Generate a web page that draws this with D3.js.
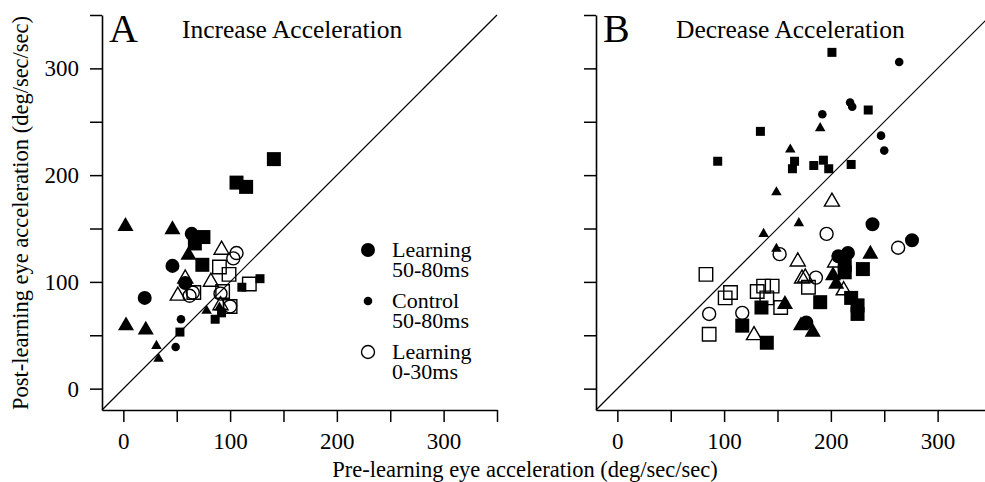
<!DOCTYPE html>
<html>
<head>
<meta charset="utf-8">
<script src="https://cdn.jsdelivr.net/npm/d3@7"></script>
<style>
  html, body { margin: 0; padding: 0; background: #fff; }
  svg { display: block; }
  text { font-family: "Liberation Serif", "Times New Roman", Times, serif; fill: #000; }
</style>
</head>
<body>
<svg id="chart" width="985" height="482"></svg>
<script>
// ---- Axis ticks ----
const tickValues = [0, 50, 100, 150, 200, 250, 300, 350];
const tickLabels = [0, 100, 200, 300];
const axisDomain = [-20, 350];

// ---- Panel A: increase acceleration, [pre, post] in deg/sec/sec ----
const incLearnCircle   = [[20, 85], [46, 115], [64, 145], [58, 99]];
const incLearnSquare   = [[141, 215], [106, 193], [115, 189], [75, 142], [67, 136], [74, 116]];
const incLearnTriangle = [[2, 152], [46, 149], [61, 125], [2.5, 59], [21, 55]];
const incCtrlCircle    = [[49, 39], [54, 65]];
const incCtrlSquare    = [[53, 53], [128, 103], [111, 95], [86, 65], [92, 71]];
const incCtrlTriangle  = [[31, 40], [33, 28], [78, 73], [90, 76]];
const incEarlyCircle   = [[106, 127], [103, 122], [62, 87], [65, 90], [91, 89], [100, 77]];
const incEarlySquare   = [[90, 114], [99, 107], [118, 98], [66, 90], [93, 91], [100, 77]];
const incEarlyTriangle = [[92, 130], [82, 100], [51, 87], [58, 103], [91, 78]];

// ---- Panel B: decrease acceleration ----
const decLearnCircle   = [[239, 154], [276, 139], [216, 127], [207, 124], [177, 62]];
const decLearnSquare   = [[230, 112], [213, 116], [213, 109], [190, 81], [219, 85], [225, 78], [225, 70], [135, 76], [117, 59], [140, 43]];
const decLearnTriangle = [[237, 126], [157, 79], [172, 59], [183, 53], [202, 106], [205, 98]];
const decCtrlCircle    = [[264, 306], [218, 268], [220, 264], [192, 257], [247, 237], [250, 223]];
const decCtrlSquare    = [[201, 315], [134, 241], [94, 213], [235, 261], [166, 213], [164, 206], [184, 209], [193, 214], [198, 206], [219, 210]];
const decCtrlTriangle  = [[190, 244], [162, 224], [149, 184], [170, 155], [137, 145], [149, 131]];
const decEarlyCircle   = [[196, 145], [263, 132], [152, 126], [186, 104], [86, 70], [117, 71]];
const decEarlySquare   = [[83, 107], [106, 90], [101, 85], [86, 51], [131, 91], [137, 96], [145, 96], [140, 85], [153, 76], [179, 95]];
const decEarlyTriangle = [[201, 175], [169, 119], [173, 103], [176, 104], [212, 92], [128, 50], [204, 118]];

const svg = d3.select("#chart");

// marker styles: large filled, small filled, open outline
const styles = {
  learn: { circle: 154, square: 196, triangle: 112, fill: "#000", stroke: "none", sw: 0 },
  ctrl:  { circle: 58,  square: 81,  triangle: 48,  fill: "#000", stroke: "none", sw: 0 },
  early: { circle: 133, square: 182, triangle: 98,  fill: "none", stroke: "#000", sw: 1.4 }
};
const shapes = { circle: d3.symbolCircle, square: d3.symbolSquare, triangle: d3.symbolTriangle };

const y = d3.scaleLinear().domain(axisDomain).range([410, 15]);

const panels = [
  {
    x0: 102, letter: "A", title: "Increase Acceleration", yLabels: true,
    sets: [
      ["learn", "circle", incLearnCircle], ["learn", "square", incLearnSquare], ["learn", "triangle", incLearnTriangle],
      ["ctrl", "circle", incCtrlCircle], ["ctrl", "square", incCtrlSquare], ["ctrl", "triangle", incCtrlTriangle],
      ["early", "circle", incEarlyCircle], ["early", "square", incEarlySquare], ["early", "triangle", incEarlyTriangle]
    ]
  },
  {
    x0: 596, letter: "B", title: "Decrease Acceleration", yLabels: false,
    sets: [
      ["learn", "circle", decLearnCircle], ["learn", "square", decLearnSquare], ["learn", "triangle", decLearnTriangle],
      ["ctrl", "circle", decCtrlCircle], ["ctrl", "square", decCtrlSquare], ["ctrl", "triangle", decCtrlTriangle],
      ["early", "circle", decEarlyCircle], ["early", "square", decEarlySquare], ["early", "triangle", decEarlyTriangle]
    ]
  }
];

const fmt = d => tickLabels.includes(d) ? d : "";

panels.forEach(p => {
  const x = d3.scaleLinear().domain(axisDomain).range([p.x0, p.x0 + 395]);
  const g = svg.append("g");

  // unity line
  g.append("line")
    .attr("x1", x(axisDomain[0])).attr("y1", y(axisDomain[0]))
    .attr("x2", x(axisDomain[1])).attr("y2", y(axisDomain[1]))
    .attr("stroke", "#000").attr("stroke-width", 1.2);

  // axes
  const yAxis = d3.axisLeft(y).tickValues(tickValues).tickSize(12).tickSizeOuter(0).tickPadding(11)
    .tickFormat(p.yLabels ? fmt : () => "");
  const xAxis = d3.axisBottom(x).tickValues(tickValues).tickSize(12).tickSizeOuter(0).tickPadding(11)
    .tickFormat(fmt);

  const ya = g.append("g").attr("transform", `translate(${p.x0},0)`).call(yAxis);
  const xa = g.append("g").attr("transform", `translate(0,${y(axisDomain[0])})`).call(xAxis);
  [ya, xa].forEach(a => {
    a.select(".domain").attr("stroke-width", 1.6);
    a.selectAll(".tick line").attr("stroke-width", 1.5);
    a.selectAll(".tick text").attr("font-size", 23)
      .attr("font-family", "'Liberation Serif', 'Times New Roman', serif");
  });

  // panel letter and title
  g.append("text").attr("x", p.x0 + 7).attr("y", 42).attr("font-size", 40).text(p.letter);
  g.append("text").attr("x", p.x0 + 80).attr("y", 38).attr("font-size", 25.5).text(p.title);

  // markers: filled first, open outlines on top
  p.sets.forEach(([kind, shape, pts]) => {
    const st = styles[kind];
    const sym = d3.symbol().type(shapes[shape]).size(st[shape]);
    g.append("g").selectAll("path").data(pts).join("path")
      .attr("transform", d => `translate(${x(d[0])},${y(d[1])})`)
      .attr("d", sym)
      .attr("fill", st.fill)
      .attr("stroke", st.stroke)
      .attr("stroke-width", st.sw);
  });
});

// legend in panel A
const legendItems = [
  { kind: "learn", lines: ["Learning", "50-80ms"], cy: 250 },
  { kind: "ctrl",  lines: ["Control", "50-80ms"],  cy: 301 },
  { kind: "early", lines: ["Learning", "0-30ms"],  cy: 352 }
];
const lg = svg.append("g");
legendItems.forEach(item => {
  const st = styles[item.kind];
  lg.append("path")
    .attr("transform", `translate(368,${item.cy})`)
    .attr("d", d3.symbol().type(d3.symbolCircle).size(st.circle))
    .attr("fill", st.fill).attr("stroke", st.stroke).attr("stroke-width", st.sw);
  item.lines.forEach((t, i) => {
    lg.append("text").attr("x", 392).attr("y", item.cy + 7 + i * 20)
      .attr("font-size", 22).text(t);
  });
});

// axis titles
svg.append("text")
  .attr("x", 525).attr("y", 477).attr("text-anchor", "middle").attr("font-size", 22.5)
  .text("Pre-learning eye acceleration (deg/sec/sec)");
svg.append("text")
  .attr("transform", "translate(28,213) rotate(-90)")
  .attr("text-anchor", "middle").attr("font-size", 22.5)
  .text("Post-learning eye acceleration (deg/sec/sec)");
</script>
</body>
</html>
